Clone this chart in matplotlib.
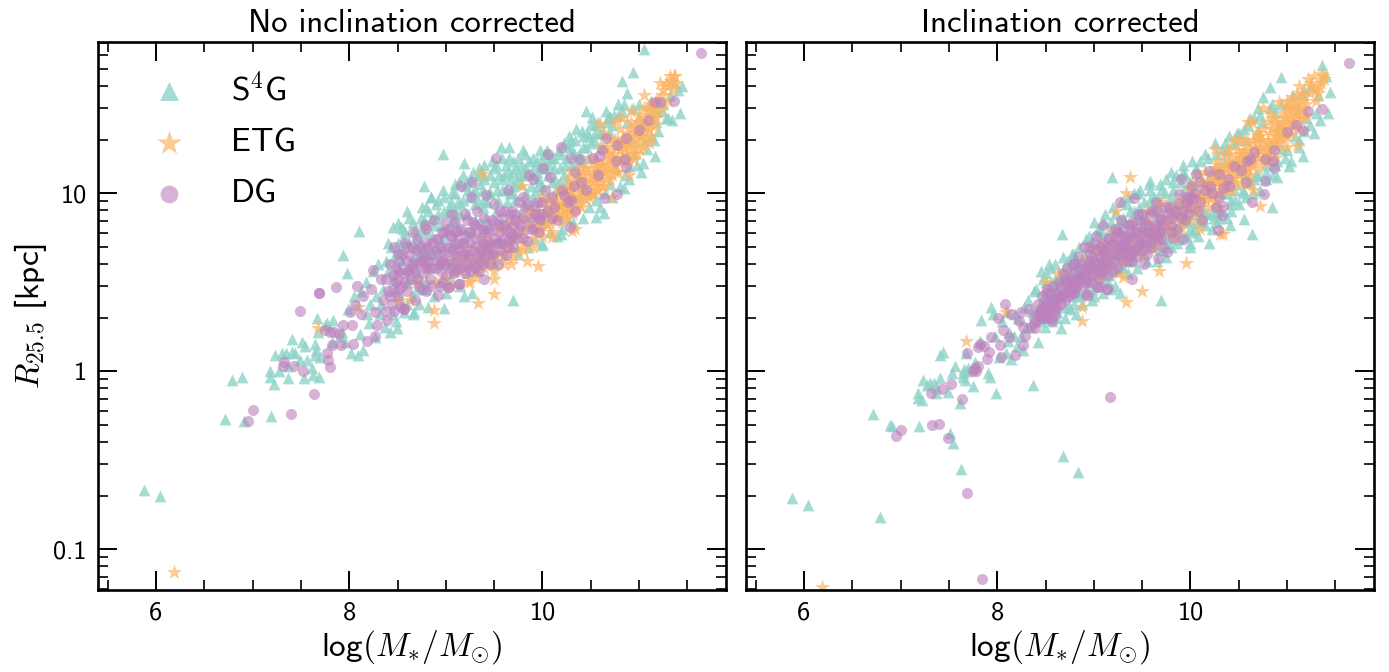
import numpy as np
import matplotlib
matplotlib.use('Agg')
import matplotlib.pyplot as plt
from matplotlib.ticker import FixedLocator, FixedFormatter, NullFormatter

plt.rcParams['font.family'] = ['cmss10', 'DejaVu Sans']
plt.rcParams['mathtext.fontset'] = 'cm'
plt.rcParams['axes.unicode_minus'] = False

s4g_logm = [
5.88,6.04,6.71,6.79,6.89,6.91,7.18,7.18,7.19,7.22,
7.23,7.27,7.30,7.35,7.37,7.37,7.41,7.41,7.44,7.49,
7.51,7.53,7.54,7.56,7.61,7.63,7.65,7.65,7.66,7.67,
7.68,7.69,7.70,7.75,7.77,7.82,7.83,7.90,7.93,7.96,
7.99,8.02,8.05,8.09,8.11,8.14,8.17,8.20,8.22,8.27,
8.30,8.32,8.35,8.37,8.40,8.42,8.45,8.48,8.49,8.50,
8.52,8.55,8.57,8.60,8.60,8.62,8.65,8.66,8.68,8.70,
8.72,8.75,8.75,8.78,8.80,8.82,8.84,8.85,8.88,8.90,
8.92,8.95,8.97,9.00,9.00,9.02,9.05,9.05,9.08,9.10,
9.12,9.15,9.15,9.18,9.20,9.22,9.25,9.25,9.28,9.30,
9.32,9.35,9.35,9.38,9.40,9.42,9.45,9.45,9.48,9.50,
9.52,9.55,9.55,9.58,9.60,9.62,9.65,9.65,9.68,9.70,
9.72,9.75,9.75,9.78,9.80,9.82,9.85,9.85,9.88,9.90,
9.92,9.95,9.95,9.98,10.00,10.02,10.05,10.05,10.08,10.10,
10.12,10.15,10.15,10.18,10.20,10.22,10.25,10.25,10.28,10.30,
10.32,10.35,10.38,10.40,10.42,10.45,10.48,10.50,10.52,10.55,
10.58,10.60,10.62,10.65,10.68,10.70,10.72,10.75,10.78,10.80,
10.82,10.85,10.88,10.90,10.92,10.95,10.98,11.00,11.02,11.05,
11.05,10.94,10.82,11.44,11.42,11.34,11.28,11.17,11.04,10.90,
10.84,10.64,10.55,10.45,10.51,10.70,10.41,10.27,10.19,10.00,
9.70,9.27,9.19,8.98,8.67,8.97,8.77,8.85,9.19,9.57,
9.65,9.80,8.10,7.94,7.98,8.45,8.54,10.70,9.92,11.36,
11.08,11.10,11.12,11.15,11.18,11.20,11.25,11.30,11.32,11.40,
8.12,8.18,8.25,8.28,8.33,8.38,8.43,8.47,8.53,8.58,
8.63,8.68,8.73,8.77,8.83,8.87,8.93,8.98,9.03,9.07,
9.13,9.17,9.23,9.27,9.33,9.37,9.43,9.47,9.53,9.57,
9.63,9.67,9.73,9.77,9.83,9.87,9.93,9.97,10.03,10.07,
10.13,10.17,10.23,10.27,10.33,10.37,10.43,10.47,10.53,10.57,
8.4,8.46,8.52,8.56,8.62,8.66,8.7,8.74,8.78,8.82,
8.86,8.9,8.94,8.98,9.02,9.06,9.1,9.14,9.18,9.22,
9.26,9.3,9.34,9.38,9.42,9.46,9.5,9.54,9.58,9.62,
9.66,9.7,9.74,9.78,9.82,9.86,9.9,9.94,9.98,10.02,
10.06,10.1,10.14,10.18,10.22,10.26,10.3,10.34,10.38,10.42,
10.46,10.5,10.54,10.58,10.62,10.66,10.7,10.74,10.78,10.82,
9.1,9.2,9.3,9.4,9.5,9.6,9.7,9.8,9.9,10.0,
8.45,8.55,8.65,8.75,8.85,8.95,9.05,9.15,9.25,9.35,
8.5,8.56,8.62,8.68,8.74,8.8,8.86,8.92,8.98,9.04,
9.1,9.16,9.22,9.28,9.34,9.4,9.46,9.52,9.58,9.64,
9.7,9.76,9.82,9.88,9.94,10.0,10.06,10.12,10.18,10.24,
10.3,10.36,10.42,10.48,10.54,10.6,10.66,10.72,10.78,10.84,
10.88,10.94,11.0,11.06,11.12,11.18,11.24,8.6,8.7,8.8]
s4g_logr_raw = [
-.67,-.70,-.27,-.05,-.03,-.28,.00,-.03,-.25,-.07,
.09,.00,.10,.10,.03,-.04,.11,.18,.10,.06,
.165,-.04,.14,.06,.02,-.02,.15,.09,.12,.30,
.22,-.035,.08,.26,.27,.165,.29,.2,.22,.165,
.35,.10,.42,.09,.21,.12,.5,.27,.38,.19,
.6,.32,.46,.25,.72,.22,.52,.28,.24,.83,
.42,.62,.33,.5,.9,.72,.42,.32,.8,.55,
.38,.66,.92,.46,.78,.36,.58,.98,.42,.7,
.88,.5,1.02,.62,.44,.8,.95,.52,.72,1.05,
.6,.88,.48,1.1,.75,.55,.98,.66,1.12,.85,
.56,1.05,.72,.92,1.16,.62,1.0,.82,1.18,.6,
.9,1.1,.74,1.2,.65,1.02,.86,1.2,.7,1.12,
.96,1.2,.66,1.05,.8,1.22,.7,1.12,.92,1.2,
.74,1.08,.86,1.24,.72,1.14,.98,1.24,.78,1.06,
1.2,.76,.94,1.14,.8,1.28,.86,1.08,1.02,1.3,
.84,1.36,.98,1.18,.86,1.26,.92,1.39,1.0,.96,
1.12,.92,1.34,1.0,1.42,1.05,.98,1.14,1.5,1.04,
1.2,1.1,1.56,1.15,1.3,1.22,1.16,1.42,1.12,1.38,
1.81,1.68,1.63,1.60,1.45,1.41,1.42,1.21,1.17,1.08,
1.03,.89,.865,1.46,1.43,1.43,1.35,1.32,.77,.71,
.40,.44,.42,.355,.33,1.22,1.04,.98,1.17,1.26,
1.26,1.24,.79,.65,.55,.81,.81,1.43,1.16,1.62,
1.25,1.5,1.32,1.3,1.46,1.35,1.5,1.42,1.55,1.58,
.45,.32,.56,.42,.38,.62,.7,.45,.68,.78,
.58,.65,.72,.85,.68,.82,.6,.9,.68,.85,
.95,.8,1.02,.78,.96,1.12,.95,.72,1.02,.84,
.95,1.08,1.14,.88,1.0,.84,1.02,1.14,.84,1.16,
1.08,1.24,1.16,.92,1.22,1.1,1.04,1.2,1.3,1.16,
.56,.64,.58,.74,.52,.84,.76,.86,.7,.9,
.76,.94,.82,.98,.9,1.0,.84,1.06,.96,.88,
1.08,.94,1.1,1.02,.86,1.1,1.14,.96,1.08,1.16,
1.0,1.18,1.06,1.16,.92,1.18,.98,1.18,1.06,1.22,
1.1,1.2,1.02,1.22,1.1,1.26,1.16,1.3,1.22,1.32,
1.34,1.28,1.34,1.4,1.26,1.4,1.34,1.44,1.3,1.46,
.9,1.04,1.02,.96,1.06,1.1,1.04,1.1,1.1,1.18,
.32,.38,.62,.5,.66,.72,.6,.72,.6,.84,
.72,.8,.86,.7,.8,.92,.86,.96,.76,.92,
1.0,.94,1.06,1.0,1.14,1.08,1.0,1.16,1.02,1.12,
1.0,1.1,1.14,1.04,1.12,1.04,1.2,1.14,1.06,1.2,
1.26,1.18,1.26,1.32,1.38,1.34,1.46,1.38,1.44,1.5,
1.4,1.48,1.5,1.3,1.52,1.4,1.46,.38,.46,.5]
s4g_logr_corr = [
-.71,-.75,-.24,-.82,-.30,-.31,-.12,-.15,-.31,-.16,
-.05,-.08,-.065,-.065,-.125,-.09,-.04,.09,.11,-.115,
-.345,-.01,-.405,.03,-.18,-.55,-.01,-.03,.01,-.05,
.10,.0,.02,-.085,.05,.17,.29,-.01,-.03,.32,
-.12,.08,.28,.10,.17,.07,.2,.14,.3,.12,
.25,.4,.34,-.08,.46,.165,.30,.42,.25,.55,
.30,.48,.28,.60,.38,.33,.50,.24,-.476,.36,
.62,.35,.5,.42,.58,.32,-.567,.7,.38,.52,
.45,.76,.62,.84,.42,.55,.68,.48,.78,.44,
.88,.6,.5,.72,.92,.48,.8,.56,.95,.66,
.84,.55,.98,.72,.62,1.0,.88,.58,1.02,.7,
.95,.62,.85,1.07,.72,.98,.62,.88,1.05,.68,
.78,1.08,.64,.92,.70,1.02,.78,1.1,.74,.88,
1.12,.76,.98,.85,.72,1.18,.8,1.05,.76,.92,
1.0,.82,1.22,.88,1.1,.8,.94,1.28,.84,1.08,
.9,1.18,.86,1.32,.96,1.02,1.3,.94,1.12,1.36,
.98,1.2,1.42,1.0,1.1,1.32,1.02,1.54,1.08,1.2,
1.28,1.1,1.45,1.18,1.38,1.25,1.2,1.5,1.15,1.4,
1.40,1.65,1.595,1.57,1.45,1.41,1.34,1.21,1.18,1.09,
.92,.77,.855,1.28,1.2,1.48,.82,1.15,.72,.70,
.40,.44,.46,.40,.77,.7,.65,.55,1.09,1.05,
.85,1.12,.33,.36,.2,.56,.6,1.35,1.16,1.72,
1.32,1.48,1.3,1.55,1.35,1.42,1.6,1.45,1.55,1.66,
.22,.32,.2,.36,.25,.45,.3,.52,.4,.45,
.42,.55,.48,.66,.46,.6,.52,.6,.7,.58,
.7,.8,.66,.85,.74,.9,.68,.92,.78,.8,
.7,.92,.86,.75,.95,.82,1.02,.92,.88,1.12,
.86,1.05,1.1,.92,1.25,1.0,1.15,1.05,1.22,1.1,
.34,.4,.36,.5,.46,.42,.52,.56,.48,.62,
.44,.66,.54,.72,.62,.5,.74,.58,.84,.68,
.6,.86,.78,.66,.9,.74,.82,.7,.96,.78,
.96,.74,1.0,.8,.88,.72,1.06,.84,1.0,.78,
.84,1.18,.9,1.0,.88,1.22,.86,1.0,1.24,.9,
.96,1.34,1.0,1.3,1.06,1.42,1.1,1.4,1.16,1.48,
.52,.7,.58,.78,.86,.92,.8,.98,.94,1.06,
.28,.42,.54,.6,.56,.5,.78,.66,.7,.62,
.5,.58,.3,.64,.36,.66,.42,.74,.46,.8,
.84,.54,.88,.6,.94,.68,1.0,.66,1.02,.74,
1.02,.72,1.06,.78,1.1,.8,1.14,.84,1.2,.86,
.9,1.28,.94,1.34,1.02,1.38,1.08,1.44,1.12,1.5,
1.16,1.5,1.24,1.55,1.26,1.58,1.38,.52,.3,.38]

etg_logm = [
6.19,7.68,8.09,8.51,8.63,8.88,8.88,9.33,9.50,9.37,
9.33,9.23,9.95,9.84,9.67,10.31,10.10,10.60,9.79,11.36,
11.22,11.05,11.10,10.95,10.72,10.92,10.82,10.25,11.30,11.33,
8.7,8.8,8.9,9.0,9.05,9.1,9.15,9.2,9.25,9.3,
9.4,9.45,9.55,9.6,9.65,9.7,9.75,9.8,9.85,9.9,
9.95,10.0,10.02,10.05,10.08,10.1,10.12,10.15,10.18,10.2,
10.22,10.25,10.28,10.3,10.32,10.35,10.38,10.4,10.42,10.45,
10.48,10.5,10.52,10.55,10.58,10.6,10.62,10.65,10.68,10.7,
10.72,10.75,10.78,10.8,10.82,10.85,10.88,10.9,10.92,10.95,
10.98,11.0,11.02,11.05,11.08,11.1,11.12,11.15,11.18,11.2,
10.3,10.4,10.5,10.6,10.7,10.8,10.9,11.0,10.55,10.65,
11.25,11.3,11.38,9.5,9.6,10.42,10.34,10.64,10.75,11.12,
9.9,9.94,9.98,10.02,10.06,10.1,10.14,10.18,10.22,10.26,
10.3,10.34,10.38,10.42,10.46,10.5,10.54,10.58,10.62,10.66,
10.7,10.74,10.78,10.82,10.86,10.9,10.94,10.98,11.02,11.06,
10.0,10.04,10.08,10.12,10.16,10.2,10.24,10.28,10.32,10.36,
10.4,10.44,10.48,10.52,10.56,10.6,10.64,10.68,10.72,10.76,
10.8,10.84,10.88,10.92,10.96,11.0,11.04,11.08,11.12,11.16,
9.3,9.35,9.4,9.45,9.5,9.55,9.6,9.65,9.7,9.75,
9.8,9.85,9.2,9.1,9.0,9.25,9.9,9.8,9.65,9.95,
11.2,11.24,11.28,11.32,11.35,11.37,11.15,11.1,11.05,11.0,
10.1,10.16,10.22,10.28,10.34,10.4,10.46,10.52,10.58,10.64,
10.7,10.76,10.82,10.88,10.94,11.0,11.06,11.12,11.18,11.24,
10.05,10.15,10.25,10.35,10.45,10.55,10.65,10.75,10.85,10.95,
9.2,9.3,9.4,9.5,9.6,9.7,9.8,9.9,10.0,9.1,
10.4,10.5,10.6,10.7,10.8,10.9,11.0,11.1,10.3,10.2]
etg_logr_raw = [
-1.13,.24,.36,.387,.40,.27,.346,.384,.434,1.11,
.6,.5,.59,.62,.60,.79,.755,1.39,1.04,1.66,
1.62,1.55,1.28,1.19,.98,1.4,1.3,1.0,1.6,1.63,
.5,.58,.5,.62,.48,.66,.56,.7,.5,.53,
.75,.62,.8,.66,.72,.84,.68,.78,.9,.75,
.85,.76,.95,.82,.98,.78,.9,.86,1.02,.84,
.94,.86,1.08,.98,.88,1.04,.94,1.14,.98,1.06,
.98,1.2,1.1,1.02,1.16,1.26,1.04,1.12,1.22,1.08,
1.2,1.3,1.12,1.24,1.42,1.18,1.34,1.26,1.46,1.3,
1.22,1.4,1.32,1.42,1.3,1.48,1.38,1.44,1.52,1.46,
1.12,.92,1.0,1.06,1.3,1.36,1.1,1.25,1.18,1.26,
1.58,1.52,1.62,.52,.7,1.1,.8,1.34,1.4,1.5,
.82,.9,.8,.88,.92,.86,.96,.92,.88,.96,
1.04,.98,1.08,1.02,1.12,1.06,1.1,1.02,1.16,1.08,
1.14,1.22,1.18,1.26,1.22,1.32,1.26,1.34,1.38,1.34,
.98,.9,.84,.94,1.0,.94,1.02,.92,.98,1.1,
1.02,1.14,1.08,1.0,1.14,1.16,1.18,1.14,1.1,1.26,
1.18,1.3,1.2,1.36,1.38,1.32,1.26,1.4,1.44,1.38,
.62,.68,.58,.72,.62,.66,.78,.68,.74,.78,
.72,.82,.58,.56,.52,.62,.88,.86,.82,.78,
1.52,1.55,1.62,1.66,1.58,1.66,1.5,1.46,1.48,1.44,
.92,.88,.98,1.02,1.06,1.08,1.0,1.06,1.1,1.04,
1.2,1.12,1.2,1.28,1.22,1.36,1.38,1.32,1.42,1.48,
.88,.94,.9,.92,.96,1.06,1.12,1.16,1.26,1.34,
.64,.56,.66,.56,.6,.64,.68,.7,.82,.62,
1.0,1.14,1.1,1.24,1.28,1.18,1.28,1.36,.92,.88]
etg_logr_corr = [
-1.21,.17,.33,.5,.55,.28,.36,.39,.45,1.09,
1.0,.90,.61,.75,.56,.77,.8,1.40,.9,1.67,
1.64,1.54,1.27,1.4,.93,1.51,1.45,1.25,1.58,1.6,
.55,.5,.62,.68,.52,.72,.6,.78,.55,.53,
.8,.68,.9,.7,.82,.95,.78,.88,.92,.8,
.95,.85,1.05,.9,1.1,.85,.98,1.12,.92,1.02,
1.08,.95,1.18,1.0,1.12,1.22,1.05,1.18,1.02,1.3,
1.12,1.22,1.05,1.3,1.15,1.28,1.1,1.2,1.34,1.14,
1.26,1.36,1.18,1.3,1.25,1.42,1.2,1.35,1.28,1.45,
1.32,1.42,1.36,1.48,1.38,1.5,1.42,1.46,1.55,1.44,
.92,1.25,1.15,1.05,1.25,1.4,1.32,1.26,1.18,1.02,
1.62,1.52,1.64,.65,.76,1.2,.77,1.4,1.48,1.6,
.88,.92,.98,.94,1.0,.92,1.04,.98,1.04,1.08,
1.06,1.12,1.14,1.08,1.18,1.1,1.22,1.2,1.16,1.26,
1.2,1.3,1.24,1.34,1.3,1.38,1.34,1.42,1.44,1.4,
1.02,.96,.94,1.06,.96,1.1,1.0,1.12,1.02,1.16,
1.12,1.1,1.24,1.16,1.12,1.24,1.18,1.22,1.32,1.22,
1.28,1.36,1.4,1.32,1.38,1.48,1.34,1.44,1.36,1.52,
.62,.7,.66,.76,.72,.84,.78,.72,.86,.84,
.92,.86,.66,.62,.58,.7,.96,.82,.92,.86,
1.5,1.6,1.66,1.56,1.62,1.66,1.56,1.55,1.5,1.52,
.98,1.04,.98,1.06,1.08,1.16,1.14,1.2,1.1,1.16,
1.3,1.26,1.2,1.28,1.36,1.32,1.46,1.48,1.42,1.56,
.9,1.0,1.14,1.04,1.06,1.24,1.3,1.18,1.24,1.3,
.72,.66,.72,.78,.7,.78,.8,.84,.92,.68,
1.02,1.3,1.14,1.32,1.18,1.26,1.4,1.44,1.14,1.06]

dg_logm = [
6.95,7.0,7.40,7.49,7.64,7.32,7.43,7.52,7.69,7.84,
7.31,7.77,7.78,7.80,7.94,7.75,7.80,7.89,7.82,7.92,
8.04,8.18,8.27,8.03,8.29,8.39,8.01,8.12,8.27,8.38,
8.46,8.57,8.06,7.69,7.86,8.25,8.08,8.23,8.14,8.33,
8.40,8.42,8.44,8.46,8.48,8.50,8.52,8.54,8.56,8.58,
8.60,8.62,8.64,8.66,8.68,8.70,8.72,8.74,8.76,8.78,
8.80,8.82,8.84,8.86,8.88,8.90,8.92,8.94,8.96,8.98,
9.00,9.02,9.04,9.06,9.08,9.10,9.12,9.14,9.16,9.17,
9.18,9.20,9.22,9.24,9.26,9.28,9.30,9.32,9.34,9.36,
9.38,9.40,9.42,9.44,9.46,9.48,9.50,9.52,9.54,9.56,
9.58,9.60,9.62,9.64,9.66,9.68,9.70,9.72,9.74,9.76,
9.78,9.80,9.82,9.84,9.86,9.88,9.90,9.92,9.94,9.96,
9.98,10.01,10.03,10.06,10.08,10.12,10.15,10.19,10.22,10.26,
10.29,10.30,10.33,10.34,10.34,10.39,10.45,10.52,10.58,10.59,
10.62,10.64,10.66,10.76,10.77,10.77,10.85,10.86,10.87,11.0,
11.09,11.17,11.22,11.36,11.64,9.27,9.14,9.03,8.94,8.57,
8.55,8.65,8.75,8.85,8.95,9.05,9.15,9.25,9.35,9.45,
8.6,8.7,8.8,8.9,9.0,9.1,9.2,9.3,9.4,9.5,
8.35,8.45,8.5,8.65,8.8,8.95,9.1,9.25,9.4,9.55,
8.45,8.5,8.55,8.6,8.65,8.7,8.75,8.8,8.85,8.9,
8.92,8.94,8.96,8.98,9.0,9.02,9.04,9.06,9.08,9.1,
9.12,9.14,9.16,9.18,9.2,9.22,9.24,9.26,9.28,9.3,
9.32,9.34,9.36,9.38,9.4,9.42,9.44,9.46,9.48,9.5,
9.52,9.54,9.56,9.58,9.6,9.62,9.64,9.66,9.68,9.7,
8.38,8.42,8.48,8.52,8.58,8.62,8.68,8.72,8.78,8.82,
9.72,9.76,9.8,9.84,9.88,9.92,9.96,10.0,10.05,10.1,
8.5,8.6,8.7,8.8,8.9,9.0,9.1,9.2,9.3,9.4,
9.5,9.6,9.7,9.8,9.9,10.0,10.1,10.2,10.3,10.4,
8.75,8.85,8.95,9.05,9.15,9.25,9.35,9.45,9.55,9.65]
dg_logr_raw = [
-.28,-.22,-.24,.34,-.13,.05,.03,.0,.44,.22,
.03,.10,.06,.025,.26,.23,.22,.21,.146,.146,
.155,.17,.197,.26,.26,.29,.33,.32,.33,.34,
.34,.35,.37,.44,.47,.57,.48,.46,.42,.52,
.45,.6,.38,.7,.5,.42,.62,.36,.55,.72,
.45,.65,.52,.78,.4,.6,.48,.7,.55,.82,
.45,.62,.52,.72,.85,.58,.43,.66,.5,.78,
.6,.47,.7,.88,.55,.65,.78,.49,1.04,.6,
.72,.55,.85,.65,.98,.6,.75,.9,.56,.68,
.8,.52,.99,.7,.6,.85,.75,1.20,.6,.9,
.72,.82,.65,1.02,.78,.9,.7,.85,.75,.95,
.82,.75,.92,.73,1.10,.8,1.08,.88,.95,.78,
.85,1.14,1.02,1.22,1.09,.92,.85,1.26,.99,.95,
.81,1.20,1.04,.90,1.12,1.19,1.02,1.20,1.10,1.21,
1.24,.97,1.31,1.18,1.27,.996,1.19,1.145,1.31,1.357,
1.41,1.51,1.51,1.52,1.786,1.06,.49,.47,.48,.35,
.66,.58,.62,.58,.7,.76,.68,.72,.62,.78,
.56,.68,.72,.68,.54,.72,.66,.58,.72,.66,
.4,.54,.66,.7,.58,.62,.56,.78,.64,.72,
.46,.52,.48,.62,.6,.52,.66,.6,.66,.62,
.74,.6,.78,.66,.7,.8,.62,.76,.68,.84,
.62,.72,.8,.66,.76,.6,.78,.68,.84,.7,
.64,.8,.74,.6,.86,.7,.8,.72,.66,.84,
.72,.82,.68,.86,.74,.8,.7,.88,.76,.82,
.52,.42,.58,.46,.5,.56,.56,.62,.64,.7,
.88,.8,.86,.94,.86,.92,.86,.95,.9,.98,
.56,.7,.74,.8,.74,.84,.78,.88,.82,.78,
.94,.9,.76,.98,.8,.88,.86,1.02,.96,1.06,
.46,.48,.56,.58,.58,.56,.66,.66,.78,.74]
dg_logr_corr = [
-.365,-.33,-.295,-.375,-.157,-.30,-.10,-.07,-.687,-1.165,
-.125,.015,.0,.137,.19,.0,.03,.07,.15,.11,
.08,.09,.146,.146,.2,.24,.3,.19,.25,.3,
.35,.28,.23,.10,.14,.33,.38,.28,.32,.35,
.28,.38,.33,.42,.3,.36,.46,.32,.4,.48,
.35,.44,.5,.38,.55,.45,.58,.42,.5,.6,
.55,.47,.64,.5,.6,.7,.43,.56,.66,.5,
.62,.76,.47,.7,.55,.82,.66,.46,.75,-.146,
.6,.72,.8,.58,.68,.85,.62,.75,.7,.82,
.65,.515,.97,.78,.7,.85,.88,.6,.75,.82,
.72,.9,.8,.95,.635,.78,.85,.7,.92,.67,
.92,.82,.75,.88,.8,.995,1.08,.74,.85,.95,
.88,1.04,.97,1.11,.9,.85,1.02,1.125,1.0,.92,
.795,1.11,.875,1.03,.93,1.08,1.15,1.13,1.06,1.18,
1.19,.95,1.23,.995,1.19,1.07,1.18,1.14,1.24,1.346,
1.38,1.357,1.46,1.47,1.73,.95,.46,.47,.43,.30,
.44,.48,.52,.58,.62,.6,.7,.78,.66,.8,
.4,.52,.6,.54,.72,.62,.66,.7,.76,.72,
.25,.34,.44,.42,.46,.7,.56,.74,.84,.78,
.3,.34,.36,.38,.42,.44,.46,.48,.52,.56,
.5,.6,.52,.64,.58,.68,.56,.64,.72,.6,
.68,.6,.74,.66,.62,.72,.78,.64,.7,.8,
.72,.66,.76,.7,.82,.68,.74,.88,.72,.78,
.84,.72,.78,.88,.76,.82,.9,.74,.86,.8,
.27,.32,.36,.3,.4,.36,.42,.5,.44,.52,
.82,.88,.86,.9,.94,.9,.98,.92,1.0,.95,
.38,.32,.4,.44,.48,.54,.66,.56,.76,.62,
.68,.7,.74,.78,.86,.98,1.06,1.04,.98,1.04,
.5,.54,.58,.52,.54,.66,.62,.64,.66,.76]

panel_titles = ['No inclination corrected', 'Inclination corrected']
series_labels = ['S$^{4}$G', 'ETG', 'DG']
x_ticks = [6, 8, 10]
x_tick_labels = ['6', '8', '10']
y_ticks = [0.1, 1, 10]
y_tick_labels = ['0.1', '1', '10']

W, H = 1389, 672
fig = plt.figure(figsize=(W / 100, H / 100), dpi=100)
def add_axes(l, r, t=42, b=590):
    return fig.add_axes([l / W, 1 - b / H, (r - l) / W, (b - t) / H])
ax1 = add_axes(98, 726)
ax2 = add_axes(746, 1374)

styles = [dict(marker='^', s=72, color='#8dd3c7', alpha=0.8, linewidths=0),
          dict(marker='*', s=135, color='#fdb462', alpha=0.7, linewidths=0),
          dict(marker='o', s=64, color='#bc80bd', alpha=0.6, linewidths=0)]
raw = [(s4g_logm, s4g_logr_raw), (etg_logm, etg_logr_raw), (dg_logm, dg_logr_raw)]
corr = [(s4g_logm, s4g_logr_corr), (etg_logm, etg_logr_corr), (dg_logm, dg_logr_corr)]

for ax, data, title in zip((ax1, ax2), (raw, corr), panel_titles):
    for (m, r), st, lab in zip(data, styles, series_labels):
        ax.scatter(m, 10 ** np.array(r), label=lab, clip_on=True, **st)
    ax.set_yscale('log')
    ax.set_xlim(5.4, 11.9)
    ax.set_ylim(0.059, 70.6)
    ax.set_title(title, fontsize=23.6, pad=7)
    ax.set_xlabel(r'log$(M_{*}/M_{\odot})$', fontsize=24, labelpad=3)
    ax.xaxis.set_major_locator(FixedLocator(x_ticks))
    ax.xaxis.set_major_formatter(FixedFormatter(x_tick_labels))
    ax.xaxis.set_minor_locator(FixedLocator(np.arange(5.5, 12, 0.5)))
    ax.yaxis.set_major_locator(FixedLocator(y_ticks))
    ax.yaxis.set_minor_locator(FixedLocator([k * 10.0 ** e for e in (-2, -1, 0, 1) for k in range(2, 10)]))
    ax.yaxis.set_minor_formatter(NullFormatter())
    ax.xaxis.set_minor_formatter(NullFormatter())
    ax.tick_params(which='major', direction='in', length=14, width=1.4, top=True, right=True,
                   labelsize=19, pad=8)
    ax.tick_params(which='minor', direction='in', length=7, width=1.2, top=True, right=True)
    for sp in ax.spines.values():
        sp.set_linewidth(1.9)

ax1.yaxis.set_major_formatter(FixedFormatter(y_tick_labels))
ax2.yaxis.set_major_formatter(NullFormatter())
ax1.set_ylabel(r'$R_{25.5}$ [kpc]', fontsize=24, labelpad=3)

leg = ax1.legend(loc='upper left', bbox_to_anchor=(0.076, 0.946), borderaxespad=0, borderpad=0,
                 frameon=False, fontsize=24, markerscale=1.6, scatterpoints=1,
                 labelspacing=0.66, handletextpad=1.15, handlelength=1.4)

fig.savefig('out.png', dpi=100)
